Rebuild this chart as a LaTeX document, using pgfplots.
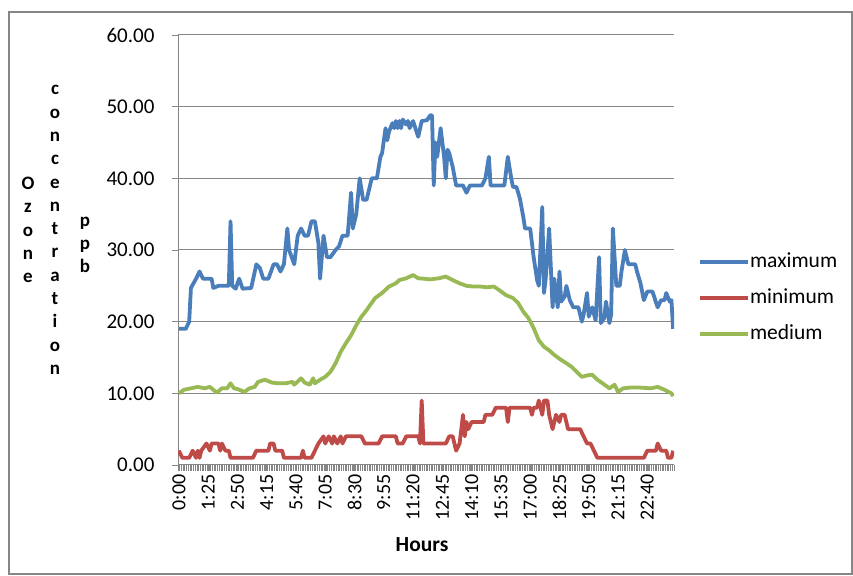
\documentclass[border=0pt]{standalone}
\usepackage{pgfplots}
\pgfplotsset{compat=1.18}
\usepackage{fontspec}
\setmainfont{Carlito}
\definecolor{cmax}{HTML}{4A7EBB}
\definecolor{cmin}{HTML}{BE4B48}
\definecolor{cmed}{HTML}{98B954}
\definecolor{gridc}{HTML}{868686}
\begin{document}
\begin{tikzpicture}[x=1pt,y=1pt]
\path[use as bounding box] (0,0) rectangle (853,575);
\draw[gridc, line width=1.5pt] (9,1) rectangle (852,563);
\begin{axis}[
  at={(178pt,110pt)}, anchor=south west,
  scale only axis, width=496pt, height=430pt,
  xmin=-0.5, xmax=287.5, ymin=0, ymax=60,
  axis x line*=bottom, axis y line*=left,
  axis line style={-, gridc, line width=1pt},
  every outer x axis line/.append style={-},
  every outer y axis line/.append style={-},
  ytick={0,10,...,60},
  ymajorgrids, grid style={gridc, line width=1pt},
  xtick={0,17,...,272},
  xticklabels={0:00,1:25,2:50,4:15,5:40,7:05,8:30,9:55,11:20,12:45,14:10,15:35,17:00,18:25,19:50,21:15,22:40},
  minor xtick={-0.5,0.5,...,287.5},
  tick align=outside, major tick length=6pt, minor tick length=6pt,
  tick style={gridc, line width=0.8pt},
  /pgf/number format/assume math mode=true,
  yticklabel style={/pgf/number format/.cd, fixed, fixed zerofill, precision=2, /tikz/.cd, font=\fontsize{21}{24}\selectfont, xshift=-14pt},
  xticklabel style={rotate=90, anchor=east, font=\fontsize{20}{24}\selectfont},
  legend style={at={(1.048,0.388)}, anchor=west, draw=none, fill=none, inner sep=0pt,
    font=\fontsize{21.5}{24}\selectfont, row sep=17pt,
    nodes={inner sep=0pt, text height=15pt, text depth=4pt}},
  legend cell align=left,
  /tikz/every odd column/.append style={column sep=0pt},
  legend image code/.code={\draw[#1, line width=4pt] (0pt,0pt) -- (48pt,0pt);},
  every axis plot/.append style={line width=3.8pt, line join=round},
]
\addplot[cmax, mark=none] coordinates {
(0,19) (4,19) (6,20) (7,24.7) (10,26) (12,27) (14,26) (19,26) (20,24.7) (23,25) (28,25) (29,25) (30,34) (31,25) (33,24.6) (35,26) (37,24.6) (42,24.7) (45,28) (47,27.5) (49,26) (52,26) (55,28) (57,28) (59,27) (61,28) (63,33) (64,30) (67,28) (69,32) (71,33) (73,32) (75,32) (77,34) (79,34) (81,31) (82,26) (84,32) (86,29) (88,29) (91,30) (93,30.5) (95,32) (98,32) (100,38) (101,33) (103,35) (105,40) (107,37) (109,37) (111,39) (112,40) (115,40) (117,43) (118,43.5) (120,47) (121,45.3) (122,46.5) (124,47.7) (125,47) (126,48) (127,47) (128,48) (129,47) (130,48.2) (132,47.5) (133,48) (134,47) (136,48) (138,46.5) (139,45.8) (141,48) (144,48.1) (146,48.8) (147,48.8) (148,39) (149,45) (150,43) (151,45) (152,47) (154,43) (155,40) (156,44) (157,43.5) (159,41.6) (161,39) (165,39) (167,38) (169,39) (176,39) (178,40) (180,43) (181,39) (189,39) (191,43) (193,40) (194,38.8) (196,38.8) (198,37.2) (200,34.6) (201,33) (204,33) (206,29) (208,25.8) (209,25) (211,36) (212,24) (213,26) (215,33) (217,22) (218,26) (220,22) (221,27) (222,22.8) (224,23.5) (225,25) (227,23) (229,22) (232,22) (234,20) (235,21) (237,24) (238,20.7) (240,22) (242,20.2) (244,29) (245,19.8) (247,20.5) (248,22.8) (250,19.8) (251,21) (252,33) (254,25) (256,25) (257,27) (259,30) (261,28) (265,28) (266,27) (268,25.4) (270,23) (272,24.2) (275,24.2) (278,22) (280,23) (282,23) (283,24) (285,22.8) (286,23) (287,19)
};
\addlegendentry{maximum}
\addplot[cmin, mark=none] coordinates {
(0,2) (2,1) (6,1) (8,2) (10,1) (11,2) (12,1) (13,2) (16,3) (18,2) (19,3) (23,3) (24,2) (25,3) (27,2) (29,2) (30,1) (43,1) (45,2) (52,2) (53,3) (55,3) (56,2) (60,2) (61,1) (71,1) (72,2) (73,1) (77,1) (79,2) (81,3) (84,4) (85,3) (87,4) (89,3) (90,4) (92,3) (94,4) (95,3) (97,4) (106,4) (108,3) (116,3) (118,4) (126,4) (127,3) (130,3) (132,4) (139,4) (140,3) (141,9) (142,3) (155,3) (157,4) (159,4) (160,3) (161,2) (163,3) (165,7) (166,4) (167,6) (168,5) (170,6) (177,6) (178,7) (182,7) (184,8) (190,8) (191,6) (192,8) (204,8) (205,7) (206,8) (208,8) (209,9) (210,8) (211,7) (212,9) (214,9) (215,7) (217,5) (219,7) (221,6) (222,7) (224,7) (226,5) (233,5) (235,4) (237,3) (239,3) (241,2) (243,1) (270,1) (272,2) (277,2) (278,3) (280,2) (283,2) (284,1) (286,1) (287,2)
};
\addlegendentry{minimum}
\addplot[cmed, mark=none] coordinates {
(0,10.0) (3,10.5) (7,10.7) (11,10.9) (15,10.7) (18,10.9) (20,10.5) (22,10.1) (25,10.7) (28,10.7) (30,11.4) (32,10.7) (34,10.6) (38,10.2) (41,10.7) (44,10.9) (46,11.6) (50,11.9) (54,11.5) (58,11.4) (62,11.4) (66,11.6) (67,11.2) (71,12.1) (73,11.5) (76,11.2) (78,12.1) (79,11.4) (82,11.9) (85,12.3) (88,13.0) (91,14.2) (94,15.8) (97,17.0) (100,18.1) (103,19.5) (106,20.7) (109,21.6) (111,22.3) (114,23.3) (118,24.0) (122,24.9) (126,25.35) (128,25.8) (132,26.05) (136,26.5) (139,26.05) (142,26.0) (146,25.9) (151,26.05) (155,26.3) (159,25.8) (163,25.35) (167,25.0) (171,24.9) (175,24.9) (179,24.8) (183,24.9) (186,24.4) (190,23.7) (194,23.3) (197,22.6) (200,21.4) (203,20.5) (206,19.1) (209,17.4) (212,16.5) (215,16.0) (218,15.35) (222,14.65) (225,14.2) (228,13.7) (231,13.0) (234,12.3) (237,12.5) (240,12.6) (243,11.9) (246,11.4) (250,10.7) (253,11.2) (255,10.2) (258,10.7) (262,10.8) (268,10.8) (274,10.7) (278,10.9) (282,10.5) (286,10.0) (287,9.6)
};
\addlegendentry{medium}
\end{axis}
\node[font=\bfseries\fontsize{21.5}{24}\selectfont] at (422,30) {Hours};
\node[align=center, font=\bfseries\fontsize{19}{23.3}\selectfont] at (28,345) {O\\z\\o\\n\\e};
\node[align=center, font=\bfseries\fontsize{19}{23.3}\selectfont] at (55,345) {c\\o\\n\\c\\e\\n\\t\\r\\a\\t\\i\\o\\n};
\node[align=center, font=\bfseries\fontsize{19}{23.3}\selectfont] at (85,330) {p\\p\\b};
\end{tikzpicture}
\end{document}
